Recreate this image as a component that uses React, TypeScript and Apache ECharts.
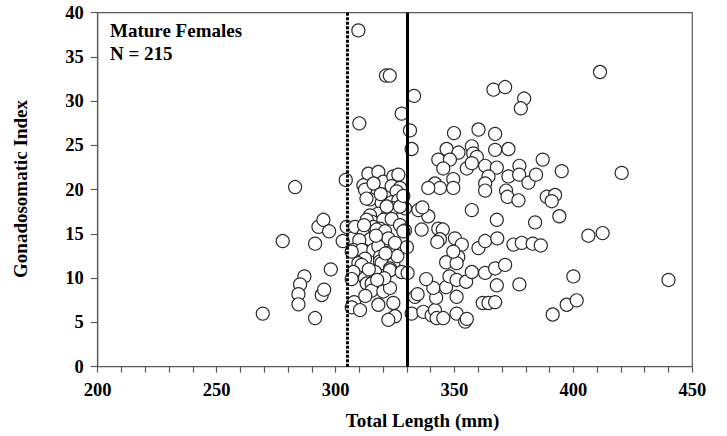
import React, { useEffect, useRef } from "react";
import * as echarts from "echarts";

// Total length (mm) and gonadosomatic index of mature females
const totalLength: number[] = [
  269.4, 277.8, 283.0, 286.9, 285.1, 284.4, 284.4, 291.4, 291.4, 292.8,
  294.9, 297.3, 294.2, 295.2, 298.0, 303.0, 304.3, 304.7,
  309.6, 310.0, 321.2, 322.8, 327.8,
  313.8, 318.0, 311.7, 312.4, 320.1, 324.3, 326.4, 323.6, 327.1, 325.7,
  314.5, 319.4, 323.6, 326.4, 329.2, 318.0, 314.5, 322.2, 324.3, 321.5, 327.1,
  315.2, 320.1, 323.6, 327.1, 329.2, 308.2, 313.1, 315.9, 318.7, 328.5,
  311.7, 317.3, 320.8, 321.5, 314.5, 310.0, 322.2, 307.5, 311.0, 315.9, 323.6, 306.8, 318.0,
  312.4, 318.7, 309.6, 318.7, 319.4, 324.3, 311.0, 322.9,
  307.5, 306.8, 312.4, 313.1, 315.2, 316.6, 322.9, 327.8, 330.3,
  315.2, 320.1, 322.9, 307.8, 306.8, 310.3, 324.3, 325.0, 322.2,
  333.0, 331.3, 332.0, 332.0, 336.9, 340.4, 341.8, 342.5, 345.3, 350.9, 354.5, 355.2,
  333.4, 342.3, 341.1, 346.5, 350.9, 338.1, 347.9, 350.9, 354.9, 357.3, 362.9, 367.1,
  371.3, 367.8, 377.3, 361.9, 364.3, 367.1, 391.3, 397.2, 401.4, 400.0, 440.0,
  346.5, 350.2, 353.1, 351.6, 350.9, 343.2, 345.1, 343.9, 342.8, 336.2, 339.0, 334.8,
  357.3, 367.8, 383.9, 394.1, 360.1, 362.9, 368.0, 374.8, 378.3, 382.9, 386.3, 406.3,
  412.3, 336.5, 349.5,
  366.4, 371.3, 379.3, 377.9, 349.8, 360.1, 367.1, 346.7, 351.7, 357.3, 367.1, 372.7,
  357.9, 359.4, 343.2, 348.1, 345.3, 355.2, 357.3, 362.9, 367.8, 364.3, 362.9, 362.9,
  349.5, 349.5, 341.8, 343.9, 339.0, 372.7, 377.3, 377.2, 381.1, 384.3, 387.1, 395.1,
  371.7, 372.3, 376.9, 388.8, 392.3, 390.9, 411.2, 420.3,
  316.0, 319.0, 313.0, 325.0, 317.0, 312.0, 326.0, 320.5, 317.5, 334.5, 330.0, 321.0,
  328.5, 318.0, 312.5, 314.0,
];

const gsi: number[] = [
  6.0, 14.2, 20.3, 10.2, 9.3, 8.2, 7.05, 5.5, 13.9, 15.8,
  16.6, 15.3, 8.1, 8.7, 11.0, 14.2, 21.1, 15.8,
  38.0, 27.5, 32.9, 32.9, 28.6,
  21.8, 22.0, 20.5, 20.0, 20.9, 21.5, 21.7, 20.4, 20.2, 19.8,
  18.9, 18.5, 18.6, 18.8, 17.9, 17.3, 17.1, 17.5, 17.9, 18.1, 18.1,
  16.4, 16.6, 16.7, 16.0, 15.4, 15.8, 16.6, 15.8, 15.6, 15.3,
  14.9, 15.5, 15.3, 14.3, 14.4, 14.3, 14.5, 13.2, 13.2, 13.2, 13.0, 13.0, 13.6,
  12.2, 12.4, 11.7, 11.9, 11.7, 11.6, 11.5, 11.1,
  10.7, 9.9, 10.0, 9.4, 9.4, 10.7, 10.9, 10.7, 10.6,
  8.6, 8.5, 8.9, 7.3, 6.7, 6.4, 7.2, 5.7, 5.3,
  30.6, 26.7, 24.6, 6.0, 6.2, 5.8, 6.4, 5.5, 5.5, 6.0, 5.1, 5.4,
  7.9, 7.8, 8.9, 9.0, 7.9, 9.9, 10.2, 9.8, 9.6, 10.7, 10.6, 11.1,
  11.5, 9.2, 9.3, 7.2, 7.2, 7.3, 5.9, 7.0, 7.5, 10.2, 9.8,
  11.8, 14.5, 13.8, 12.4, 11.7, 15.6, 15.5, 14.4, 14.1, 15.5, 17.0, 17.7,
  17.7, 16.6, 16.3, 17.0, 13.4, 14.2, 14.5, 13.8, 14.0, 13.9, 13.7, 14.8,
  15.1, 18.0, 13.0,
  31.3, 31.6, 30.3, 29.2, 26.4, 26.8, 26.3, 24.6, 24.2, 24.9, 24.5, 24.6,
  24.1, 23.7, 23.4, 23.4, 22.4, 22.4, 23.0, 22.7, 22.5, 21.5, 20.7, 19.9,
  21.2, 20.2, 20.7, 20.2, 20.2, 21.5, 22.7, 21.7, 20.8, 21.7, 23.4, 22.1,
  19.9, 19.2, 18.8, 19.2, 19.4, 18.7, 33.3, 21.9,
  20.7, 19.5, 19.0, 14.0, 14.8, 16.0, 12.5, 10.0, 9.8, 8.2, 13.5, 12.8,
  19.3, 7.0, 8.0, 11.0,
];

const xTickLabels: number[] = [200, 250, 300, 350, 400, 450];
const yTickLabels: number[] = [0, 5, 10, 15, 20, 25, 30, 35, 40];
const dottedCutoff = 305;
const solidCutoff = 330;
const annotationLines: string[] = ["Mature Females", "N = 215"];
const xTitle = "Total Length (mm)";
const yTitle = "Gonadosomatic Index";

const FONT = "'Liberation Serif', 'Times New Roman', serif";

export default function App() {
  const ref = useRef<HTMLDivElement>(null);

  useEffect(() => {
    if (!ref.current) return;
    const chart = echarts.init(ref.current, undefined, { renderer: "svg" });
    const points = totalLength.map((x, i) => [x, gsi[i]]);
    const axisColor = "#595959";

    chart.setOption({
      animation: false,
      backgroundColor: "#ffffff",
      grid: {
        left: 97.7,
        right: 34.7,
        top: 12.7,
        bottom: 69.3,
        show: true,
        borderColor: axisColor,
        borderWidth: 1.2,
        backgroundColor: "transparent",
      },
      xAxis: {
        type: "value",
        min: xTickLabels[0],
        max: xTickLabels[xTickLabels.length - 1],
        interval: 50,
        axisLine: { show: true, lineStyle: { color: axisColor, width: 1.2 } },
        axisTick: { show: true, inside: false, length: 6, lineStyle: { color: axisColor, width: 1.2 } },
        minorTick: { show: true, splitNumber: 5, length: 6, lineStyle: { color: axisColor, width: 1.2 } },
        splitLine: { show: false },
        axisLabel: {
          margin: 14,
          color: "#000",
          fontFamily: FONT,
          fontWeight: "bold",
          fontSize: 18.5,
        },
      },
      yAxis: {
        type: "value",
        min: yTickLabels[0],
        max: yTickLabels[yTickLabels.length - 1],
        interval: 5,
        axisLine: { show: true, lineStyle: { color: axisColor, width: 1.2 } },
        axisTick: { show: true, inside: false, length: 7, lineStyle: { color: axisColor, width: 1.2 } },
        splitLine: { show: false },
        axisLabel: {
          margin: 14,
          color: "#000",
          fontFamily: FONT,
          fontWeight: "bold",
          fontSize: 18.5,
        },
      },
      series: [
        {
          type: "scatter",
          data: points,
          symbol: "circle",
          symbolSize: 13,
          itemStyle: { color: "#ffffff", borderColor: "#2a2a2a", borderWidth: 1.2, opacity: 1 },
          markLine: {
            silent: true,
            symbol: "none",
            label: { show: false },
            data: [
              { xAxis: dottedCutoff, lineStyle: { color: "#000", width: 3, type: [3, 1.5] } },
              { xAxis: solidCutoff, lineStyle: { color: "#000", width: 3, type: "solid" } },
            ],
          },
        },
      ],
      graphic: [
        {
          type: "text",
          left: 110,
          top: 21,
          style: {
            text: annotationLines[0],
            fontFamily: FONT,
            fontWeight: "bold",
            fontSize: 19,
            fill: "#000",
          },
        },
        {
          type: "text",
          left: 110,
          top: 44,
          style: {
            text: annotationLines[1],
            fontFamily: FONT,
            fontWeight: "bold",
            fontSize: 19,
            fill: "#000",
          },
        },
        {
          type: "text",
          x: 422.5,
          y: 420,
          style: {
            text: xTitle,
            fontFamily: FONT,
            fontWeight: "bold",
            fontSize: 19,
            fill: "#000",
            align: "center",
            verticalAlign: "middle",
          },
        },
        {
          type: "text",
          x: 20,
          y: 189,
          rotation: Math.PI / 2,
          style: {
            text: yTitle,
            fontFamily: FONT,
            fontWeight: "bold",
            fontSize: 19,
            fill: "#000",
            align: "center",
            verticalAlign: "middle",
          },
        },
      ],
    });

    return () => chart.dispose();
  }, []);

  return (
    <div
      ref={ref}
      style={{ position: "fixed", left: 0, top: 0, width: 727, height: 436, background: "#fff" }}
    />
  );
}
